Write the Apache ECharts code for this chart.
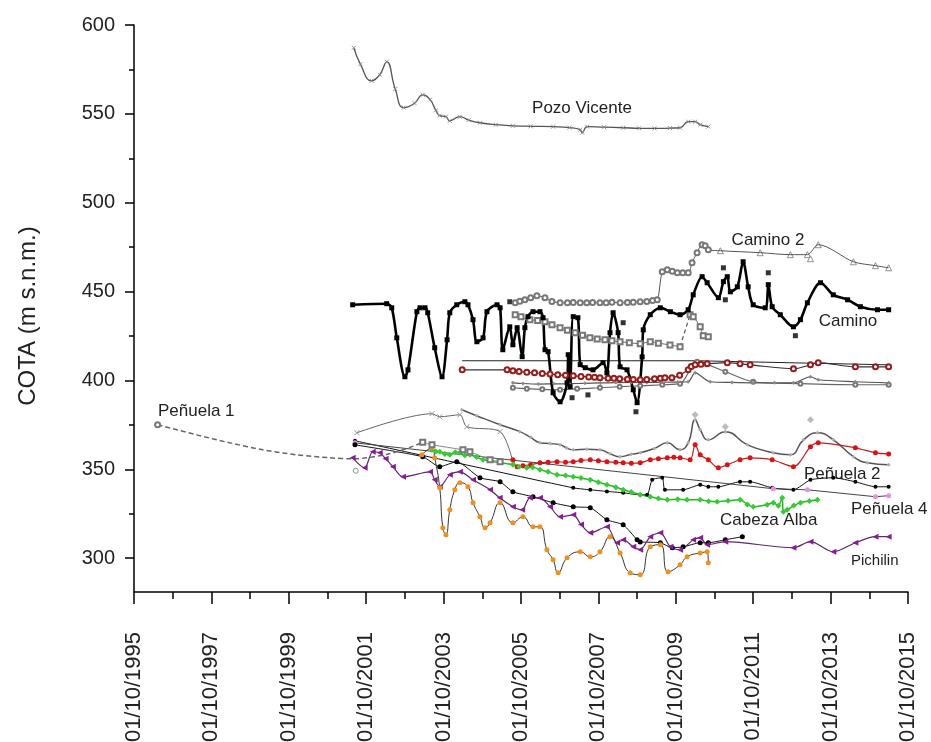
<!DOCTYPE html>
<html>
<head>
<meta charset="utf-8">
<script src="https://cdn.jsdelivr.net/npm/echarts@6/dist/echarts.min.js"></script>
<style>
  html, body { margin: 0; padding: 0; background: #fff; }
  #chart { width: 931px; height: 742px; }
</style>
</head>
<body>
<div id="chart"></div>
<script>
// Axis ticks (x in decimal years; 1995.75 = 01/10/1995)
const xMajorTicks = [1995.75, 1997.75, 1999.75, 2001.75, 2003.75, 2005.75, 2007.75, 2009.75, 2011.75, 2013.75, 2015.75];
const xMinorTicks = [1996.75, 1998.75, 2000.75, 2002.75, 2004.75, 2006.75, 2008.75, 2010.75, 2012.75, 2014.75];
const yMajorTicks = [300, 350, 400, 450, 500, 550, 600];
const yMinorTicks = [325, 375, 425, 475, 525, 575];

// Well level series: [decimal year, COTA m s.n.m.]
const pozoVicente = [[2001.43,587.2],[2001.6,578.0],[2001.89,568.6],[2002.1,572.0],[2002.28,579.3],[2002.5,564.0],[2002.72,553.5],[2003.0,556.0],[2003.21,560.7],[2003.40,558.0],[2003.55,552.0],[2003.65,549.0],[2003.81,548.4],[2003.91,546.1],[2004.17,548.4],[2004.4,546.5],[2004.69,545.0],[2005.1,543.9],[2005.54,543.3],[2006.0,543.0],[2006.58,542.8],[2007.0,542.3],[2007.28,541.1],[2007.33,539.4],[2007.46,542.8],[2007.9,542.5],[2008.39,542.2],[2008.8,541.9],[2009.2,541.8],[2009.6,542.0],[2009.86,542.2],[2010.07,545.6],[2010.25,545.6],[2010.38,543.9],[2010.59,542.8]];

const camino = [[2001.40,442.6],[2002.28,443.2],[2002.41,440.9],[2002.54,424.0],[2002.75,402.1],[2002.83,406.0],[2003.06,438.7],[2003.14,440.9],[2003.27,440.9],[2003.34,438.1],[2003.52,418.4],[2003.71,402.1],[2003.84,422.9],[2003.91,438.1],[2004.09,442.6],[2004.30,444.3],[2004.38,442.6],[2004.51,434.2],[2004.61,421.8],[2004.77,424.0],[2004.87,438.7],[2005.13,442.6],[2005.21,440.9],[2005.28,417.3],[2005.46,430.2],[2005.54,420.1],[2005.65,429.7],[2005.78,413.4],[2005.85,429.7],[2005.93,435.9],[2006.06,438.7],[2006.24,438.7],[2006.32,435.3],[2006.37,417.3],[2006.45,416.2],[2006.58,393.1],[2006.76,388.0],[2006.94,398.7],[2006.97,414.5],[2007.02,396.5],[2007.10,435.9],[2007.22,435.3],[2007.28,408.9],[2007.41,407.2],[2007.61,406.0],[2007.87,410.0],[2007.97,404.3],[2008.05,426.9],[2008.13,438.1],[2008.26,426.9],[2008.31,407.7],[2008.49,406.0],[2008.65,394.8],[2008.75,387.5],[2008.88,413.3],[2008.91,428.5],[2009.09,437.0],[2009.35,440.9],[2009.61,438.7],[2009.86,437.0],[2010.07,439.8],[2010.20,448.2],[2010.43,458.4],[2010.56,455.0],[2010.85,446.6],[2010.98,455.6],[2011.08,458.4],[2011.16,449.9],[2011.34,452.7],[2011.49,466.8],[2011.62,452.7],[2011.75,442.6],[2012.06,440.9],[2012.14,453.9],[2012.24,441.5],[2012.45,437.0],[2012.79,430.2],[2012.97,434.2],[2013.15,443.7],[2013.49,455.0],[2013.82,448.2],[2014.19,445.4],[2014.52,441.5],[2014.96,439.8],[2015.25,439.8]];
const caminoSueltos = [[2005.46,444.3],[2007.07,390.3],[2007.48,391.9],[2008.72,382.4],[2008.39,432.5],[2010.98,463.4],[2011.03,445.4],[2012.14,460.6],[2012.84,425.2]];

const camino2 = [[2005.60,443.7],[2005.72,444.6],[2005.85,445.4],[2006.0,446.5],[2006.16,447.7],[2006.37,446.5],[2006.55,444.5],[2006.76,443.7],[2006.95,443.7],[2007.1,443.9],[2007.28,443.7],[2007.45,443.7],[2007.6,443.9],[2007.79,443.7],[2007.95,443.7],[2008.1,444.0],[2008.31,443.7],[2008.5,443.9],[2008.65,444.0],[2008.83,444.3],[2009.0,444.5],[2009.15,445.0],[2009.27,445.4],[2009.40,461.2],[2009.53,462.3],[2009.66,461.4],[2009.79,460.6],[2009.93,460.6],[2010.07,460.6],[2010.17,466.2],[2010.30,471.9],[2010.43,476.4],[2010.51,475.8],[2010.59,473.6],[2010.90,473.0],[2011.93,471.9],[2012.71,470.8],[2013.15,470.8],[2013.43,476.4],[2014.34,466.8],[2014.91,464.6],[2015.25,463.4]];
const camino2Sueltos = [[2013.23,468.5]];
const camino2b = [[2005.60,437.0],[2005.75,435.8],[2005.98,434.2],[2006.18,433.8],[2006.37,433.0],[2006.55,431.4],[2006.76,429.7],[2006.95,428.2],[2007.15,426.9],[2007.34,425.5],[2007.53,424.0],[2007.72,423.4],[2007.92,422.9],[2008.1,422.3],[2008.31,421.8],[2008.55,421.2],[2008.83,420.7],[2009.09,421.8],[2009.3,421.0],[2009.6,420.0],[2009.86,419.0]];
const camino2c = [[2010.12,437.0],[2010.20,435.9],[2010.38,430.2],[2010.46,425.2],[2010.59,424.6]];

const rojoAlto = [[2004.23,406.0],[2005.39,406.0],[2005.54,405.5],[2005.7,405.0],[2005.9,404.6],[2006.1,404.3],[2006.3,404.0],[2006.5,403.6],[2006.7,403.2],[2006.9,402.9],[2007.1,402.6],[2007.3,402.3],[2007.5,402.0],[2007.65,401.8],[2007.79,401.5],[2008.0,401.3],[2008.15,401.2],[2008.3,401.0],[2008.5,400.7],[2008.65,400.5],[2008.83,400.4],[2009.0,400.6],[2009.2,401.0],[2009.35,401.2],[2009.47,401.5],[2009.65,401.6],[2009.85,403.0],[2010.07,406.0],[2010.15,407.8],[2010.25,408.8],[2010.4,409.2],[2010.56,409.4],[2011.08,410.0],[2011.41,409.4],[2011.67,408.8],[2012.79,406.6],[2013.23,408.8],[2013.43,410.0],[2014.39,407.7],[2014.91,407.7],[2015.25,407.7]];
const lineaFina = [[2004.23,411.1],[2010.30,411.1],[2015.25,408.8]];
const grisA = [[2005.54,398.7],[2005.8,398.3],[2006.2,398.0],[2006.6,398.1],[2007.0,398.2],[2007.4,398.4],[2007.8,398.6],[2008.2,398.8],[2008.6,398.9],[2009.0,398.9],[2009.4,399.0],[2009.8,399.1],[2010.07,399.3],[2010.25,404.3],[2010.64,399.3],[2011.2,398.9],[2011.75,398.7],[2012.3,398.7],[2012.79,398.7],[2013.23,402.1],[2013.43,400.4],[2014.39,399.3],[2015.25,398.7]];
const grisB = [[2005.54,395.9],[2005.9,395.4],[2006.3,395.0],[2006.76,394.8],[2007.2,395.3],[2007.79,395.9],[2008.3,396.5],[2008.83,397.0],[2009.4,397.6],[2009.86,398.2],[2010.30,410.5],[2011.03,404.9],[2011.75,399.3],[2012.97,398.2],[2014.39,397.6],[2015.25,397.6]];

const penuela1 = [[1996.36,375.1],[1997.37,369.4],[1998.23,364.9],[1999.08,361.0],[1999.95,358.2],[2000.81,356.5],[2001.41,355.9],[2002.3,358.5],[2002.9,362.5],[2003.21,365.2]];
const penuela1Cola = [[2003.21,365.2],[2003.45,363.8],[2004.25,361.0],[2004.43,359.9],[2004.95,355.4],[2005.21,354.3]];
const penuela1Suelto = [[2001.48,349.2]];

const grisSupA = [[2001.51,370.6],[2003.45,381.3],[2003.65,379.6],[2004.17,380.7],[2004.35,374.0],[2005.21,371.2],[2005.54,354.3]];
const grisSupB = [[2004.22,383.5],[2004.6,380.2],[2005.21,375.1],[2005.72,371.2],[2006.0,368.0],[2006.24,365.0],[2006.5,364.5],[2006.76,363.8],[2006.93,362.0],[2007.10,361.0],[2007.45,361.3],[2007.79,361.0],[2008.05,358.8],[2008.31,357.1],[2008.6,358.5],[2008.83,359.3],[2009.2,361.8],[2009.53,364.9],[2009.86,361.0],[2010.07,364.9],[2010.25,377.9],[2010.38,372.3],[2010.59,366.6],[2011.03,371.1],[2011.60,363.8],[2012.27,359.3],[2012.71,358.2],[2013.05,366.6],[2013.41,370.6],[2013.82,366.6],[2014.34,357.1],[2014.70,353.7],[2015.25,352.6]];
const grisSupSueltos = [[2010.25,380.7],[2011.03,374.0],[2013.23,377.9]];

const rojoBajo = [[2005.54,355.4],[2005.65,351.5],[2005.8,352.0],[2006.0,352.6],[2006.24,353.7],[2006.45,354.0],[2006.68,354.3],[2006.9,354.0],[2007.10,354.3],[2007.3,355.0],[2007.54,355.4],[2007.75,354.8],[2007.97,354.3],[2008.2,354.0],[2008.39,353.7],[2008.6,353.5],[2008.83,353.7],[2009.09,355.4],[2009.3,356.0],[2009.53,356.5],[2009.7,356.8],[2009.86,356.5],[2010.12,355.4],[2010.25,363.8],[2010.38,358.2],[2010.59,355.4],[2010.85,350.9],[2011.08,352.6],[2011.41,355.4],[2011.67,356.5],[2012.24,355.4],[2012.79,351.5],[2013.23,362.7],[2013.43,364.9],[2014.39,362.1],[2014.91,359.3],[2015.25,358.7]];

const negroSup = [[2001.46,366.1],[2007.10,339.6],[2007.54,338.5],[2007.97,337.6],[2008.39,336.8],[2008.83,335.7],[2009.01,335.7],[2009.14,344.1],[2009.40,345.3],[2009.47,338.5],[2009.94,338.5],[2010.38,341.3],[2010.59,340.2],[2010.85,340.2],[2011.41,343.0],[2011.67,343.0],[2012.24,339.6],[2012.79,338.5],[2013.23,344.1],[2013.82,345.3],[2014.39,343.0],[2014.91,340.2],[2015.25,340.2]];
const penuela4 = [[2001.46,364.9],[2012.27,339.1],[2013.15,338.5],[2014.91,334.6],[2015.25,335.2]];
const negroInf = [[2001.46,363.8],[2003.21,357.1],[2003.65,351.5],[2004.09,354.3],[2004.69,345.3],[2005.21,343.0],[2005.54,337.4],[2006.06,334.6],[2006.58,331.2],[2007.10,328.9],[2007.54,328.4],[2007.97,321.6],[2008.39,318.8],[2008.75,310.4],[2008.83,309.2],[2009.35,308.7],[2009.66,305.9],[2009.94,306.4],[2010.38,308.7],[2010.59,308.7],[2011.03,310.4],[2011.47,312.1]];

const cabezaAlba = [[2003.45,361.0],[2003.55,360.0],[2003.65,359.9],[2003.78,358.6],[2003.91,358.2],[2004.05,359.6],[2004.17,359.3],[2004.3,358.0],[2004.43,358.2],[2004.6,357.0],[2004.77,355.4],[2005.54,352.6],[2005.7,351.4],[2005.90,350.9],[2006.05,351.2],[2006.24,349.8],[2006.45,348.6],[2006.68,346.9],[2006.9,346.5],[2007.10,345.8],[2007.3,345.2],[2007.54,344.1],[2007.75,342.8],[2007.97,341.3],[2008.2,340.0],[2008.39,338.5],[2008.6,337.2],[2008.83,335.7],[2009.09,334.6],[2009.3,333.6],[2009.53,332.9],[2009.8,333.2],[2010.04,332.9],[2010.38,332.9],[2010.6,332.0],[2010.82,331.8],[2011.1,332.4],[2011.41,332.9],[2011.6,330.2],[2011.75,328.9],[2012.11,330.1],[2012.27,331.2],[2012.40,329.5],[2012.50,334.0],[2012.53,326.1],[2012.63,327.3],[2012.8,329.6],[2012.97,331.2],[2013.2,332.2],[2013.41,332.9]];

const pichilin = [[2001.40,356.5],[2001.71,350.9],[2001.92,359.9],[2002.10,359.3],[2002.25,356.0],[2002.44,351.5],[2002.70,345.8],[2003.40,348.6],[2003.52,344.1],[2003.65,340.2],[2003.91,346.9],[2004.17,348.6],[2004.51,344.1],[2004.95,338.5],[2005.2,334.0],[2005.54,329.0],[2005.78,327.3],[2005.98,334.0],[2006.24,334.0],[2006.50,329.0],[2006.76,323.3],[2007.10,324.4],[2007.3,319.0],[2007.54,314.3],[2007.97,317.7],[2008.23,308.7],[2008.39,310.4],[2008.65,306.4],[2008.83,304.8],[2009.09,312.1],[2009.35,314.3],[2009.61,306.4],[2009.86,304.8],[2010.20,310.4],[2010.38,311.5],[2010.56,307.6],[2011.03,309.3],[2012.79,305.9],[2013.23,309.3],[2013.82,303.6],[2014.39,308.7],[2014.91,312.1],[2015.25,312.1]];

const naranja = [[2003.19,358.2],[2003.45,362.2],[2003.52,356.5],[2003.65,339.6],[2003.73,317.1],[2003.81,313.2],[2003.91,327.3],[2004.04,338.5],[2004.17,342.5],[2004.38,340.2],[2004.51,331.2],[2004.69,323.3],[2004.82,317.1],[2004.95,319.9],[2005.21,331.2],[2005.54,319.9],[2005.80,323.3],[2006.06,317.7],[2006.24,317.7],[2006.42,304.8],[2006.58,299.1],[2006.71,291.8],[2006.94,300.2],[2007.28,303.6],[2007.54,300.8],[2007.79,303.6],[2008.05,312.1],[2008.31,303.0],[2008.57,291.8],[2008.83,290.7],[2009.09,306.4],[2009.35,307.6],[2009.55,292.4],[2009.86,296.3],[2010.04,300.8],[2010.38,303.0],[2010.56,303.6],[2010.59,297.4]];

const chart = echarts.init(document.getElementById('chart'), null, { renderer: 'canvas' });

// stroked "x" marker
const crossSymbol = 'path://M0,0L10,10M10,0L0,10';
// Camino 2 switches from circles to sparse triangles after 2010.8
const camino2Corte = 2010.8;

function serie(name, data, o) {
  return Object.assign({
    name: name,
    type: 'line',
    data: data,
    smooth: 0.3,
    showAllSymbol: true,
    animation: false,
    symbolSize: 4,
    lineStyle: { width: 1, color: '#555' },
    itemStyle: o.item || { color: '#555' },
    emphasis: { disabled: true }
  }, o.extra || {});
}
function scatter(name, data, symbol, size, item) {
  return { name: name, type: 'scatter', data: data, symbol: symbol, symbolSize: size, itemStyle: item, animation: false, emphasis: { disabled: true } };
}

// "empty*" symbols on line series take their outline from itemStyle.color and are filled white
const openGrey = { color: '#777', borderWidth: 1 };
// open markers for scatter series: white fill, grey outline
const openGreyScatter = { color: '#fff', borderColor: '#777', borderWidth: 1 };

const series = [
  scatter('Peñuela 1 suelto', penuela1Suelto, 'circle', 5, openGreyScatter),
  serie('Pozo Vicente', pozoVicente, { item: { color: 'none', borderColor: '#888', borderWidth: 0.9 }, extra: { symbol: crossSymbol, symbolSize: 4, smooth: 0.5, lineStyle: { width: 1.3, color: '#555' } } }),
  serie('Camino 2', camino2, { item: openGrey, extra: { symbol: 'emptyCircle', symbolSize: v => (v[0] > camino2Corte ? 0 : 5), lineStyle: { width: 1, color: '#555' } } }),
  scatter('Camino 2 triangulos', camino2.filter(p => p[0] > camino2Corte).concat(camino2Sueltos), 'triangle', 6, openGreyScatter),
  serie('Camino 2b', camino2b, { item: openGrey, extra: { symbol: 'emptyRect', symbolSize: 5, lineStyle: { width: 1, color: '#666' } } }),
  serie('Camino 2c', camino2c, { item: openGrey, extra: { symbol: 'emptyRect', symbolSize: 5, lineStyle: { width: 1, color: '#666' } } }),
  serie('linea fina', lineaFina, { extra: { symbol: 'none', smooth: false, lineStyle: { width: 1, color: '#222' } } }),
  serie('gris B', grisB, { item: openGrey, extra: { symbol: 'emptyCircle', symbolSize: 4, lineStyle: { width: 1.2, color: '#666' } } }),
  serie('gris A', grisA, { item: { color: '#888' }, extra: { symbol: 'diamond', symbolSize: 4, lineStyle: { width: 1.2, color: '#555' } } }),
  serie('rojo alto', rojoAlto, { item: { color: '#9a1a1a' }, extra: { symbol: 'emptyCircle', symbolSize: 5, lineStyle: { width: 1.2, color: '#333' } } }),
  serie('Camino', camino, { item: { color: '#000' }, extra: { symbol: 'rect', symbolSize: 5, lineStyle: { width: 2.6, color: '#000' } } }),
  scatter('Camino sueltos', caminoSueltos, 'rect', 5, { color: '#000' }),
  serie('gris sup A', grisSupA, { item: { color: 'none', borderColor: '#999', borderWidth: 1 }, extra: { symbol: crossSymbol, symbolSize: 5, lineStyle: { width: 1, color: '#666' } } }),
  serie('gris sup B', grisSupB, { item: { color: '#aaa' }, extra: { symbol: 'diamond', symbolSize: 4, smooth: 0.5, lineStyle: { width: 1.5, color: '#555' } } }),
  scatter('gris sup sueltos', grisSupSueltos, 'diamond', 7, { color: '#aaa' }),
  serie('Peñuela 2', rojoBajo, { item: { color: '#e01010' }, extra: { symbol: 'circle', symbolSize: 5, lineStyle: { width: 1.2, color: '#c02020' } } }),
  serie('negro sup', negroSup, { item: { color: '#000' }, extra: { symbol: 'circle', symbolSize: 4, smooth: 0.2, lineStyle: { width: 1, color: '#111' } } }),
  serie('Peñuela 4', penuela4, { item: { color: '#e88ee8' }, extra: { symbol: 'circle', symbolSize: 5, smooth: false, lineStyle: { width: 1, color: '#444' } } }),
  serie('negro inf', negroInf, { item: { color: '#000' }, extra: { symbol: 'circle', symbolSize: 5, smooth: 0.2, lineStyle: { width: 1, color: '#111' } } }),
  serie('Cabeza Alba', cabezaAlba, { item: { color: '#33cc33' }, extra: { symbol: 'diamond', symbolSize: 6, lineStyle: { width: 1.5, color: '#22bb22' } } }),
  serie('Pichilin', pichilin, { item: { color: '#8a1a9a' }, extra: { symbol: 'triangle', symbolRotate: 90, symbolSize: 6, lineStyle: { width: 1.2, color: '#5a2a6a' } } }),
  serie('naranja', naranja, { item: { color: '#f0901a' }, extra: { symbol: 'circle', symbolSize: 5, smooth: 0.5, lineStyle: { width: 1, color: '#333' } } }),
  serie('Peñuela 1 cola', penuela1Cola, { item: openGrey, extra: { symbol: 'emptyRect', symbolSize: 5, lineStyle: { width: 1, color: '#888' } } }),
  // dashed pieces
  serie('Camino 2b enlace', [camino2b[camino2b.length - 1], camino2c[0]], { extra: { symbol: 'none', smooth: false, lineStyle: { width: 1.2, color: '#555', type: [4, 3] } } }),
  serie('Peñuela 1', penuela1, { item: openGrey, extra: { symbol: 'emptyCircle', symbolSize: (v, p) => (p.dataIndex === 0 ? 5 : 0), lineStyle: { width: 1.5, color: '#666', type: [5, 3] } } })
];

const labelFont = 'Arial, "Liberation Sans", Helvetica, sans-serif';
function txt(text, x, y, size, align) {
  return { type: 'text', x: x, y: y, style: { text: text, fill: '#222', font: size + 'px ' + labelFont, textAlign: align || 'center', textVerticalAlign: 'middle' }, silent: true };
}

const option = {
  backgroundColor: '#fff',
  animation: false,
  grid: { left: 134, right: 23, top: 25, bottom: 150, containLabel: false, outerBoundsMode: 'none' },
  xAxis: [
    {
      type: 'value', min: 1995.75, max: 2015.75, position: 'bottom',
      axisLine: { lineStyle: { color: '#000', width: 1.5 } },
      axisTick: { customValues: xMajorTicks, length: 12, lineStyle: { color: '#000', width: 1.5 } },
      axisLabel: { customValues: xMajorTicks, rotate: 90, margin: 40, fontSize: 22, color: '#222', fontFamily: labelFont,
        formatter: v => '01/10/' + Math.round(v - 0.75) },
      splitLine: { show: false }
    },
    {
      type: 'value', min: 1995.75, max: 2015.75, position: 'bottom',
      axisLine: { show: false },
      axisTick: { customValues: xMinorTicks, length: 7, lineStyle: { color: '#000', width: 1.5 } },
      axisLabel: { show: false },
      splitLine: { show: false }
    }
  ],
  yAxis: [
    {
      type: 'value', min: 281, max: 600, position: 'left',
      axisLine: { show: true, lineStyle: { color: '#000', width: 1.5 } },
      axisTick: { show: true, customValues: yMajorTicks, length: 9, lineStyle: { color: '#000', width: 1.5 } },
      axisLabel: { customValues: yMajorTicks, margin: 19, fontSize: 20, color: '#222', fontFamily: labelFont },
      splitLine: { show: false }
    },
    {
      type: 'value', min: 281, max: 600, position: 'left',
      axisLine: { show: false },
      axisTick: { show: true, customValues: yMinorTicks, length: 5, lineStyle: { color: '#000', width: 1.5 } },
      axisLabel: { show: false },
      splitLine: { show: false }
    }
  ],
  graphic: [
    { type: 'text', x: 28, y: 316, rotation: Math.PI / 2, style: { text: 'COTA (m s.n.m.)', fill: '#222', font: '24px ' + labelFont, textAlign: 'center', textVerticalAlign: 'middle' }, silent: true },
    txt('Pozo Vicente', 582, 108, 17),
    txt('Camino 2', 768, 240, 17),
    txt('Camino', 848, 321, 17),
    txt('Peñuela 1', 158, 411, 17, 'left'),
    txt('Peñuela 2', 804, 474, 17, 'left'),
    txt('Peñuela 4', 851, 509, 17, 'left'),
    txt('Cabeza Alba', 720, 520, 17, 'left'),
    txt('Pichilin', 851, 561, 15, 'left')
  ],
  series: series
};

chart.setOption(option);
</script>
</body>
</html>
